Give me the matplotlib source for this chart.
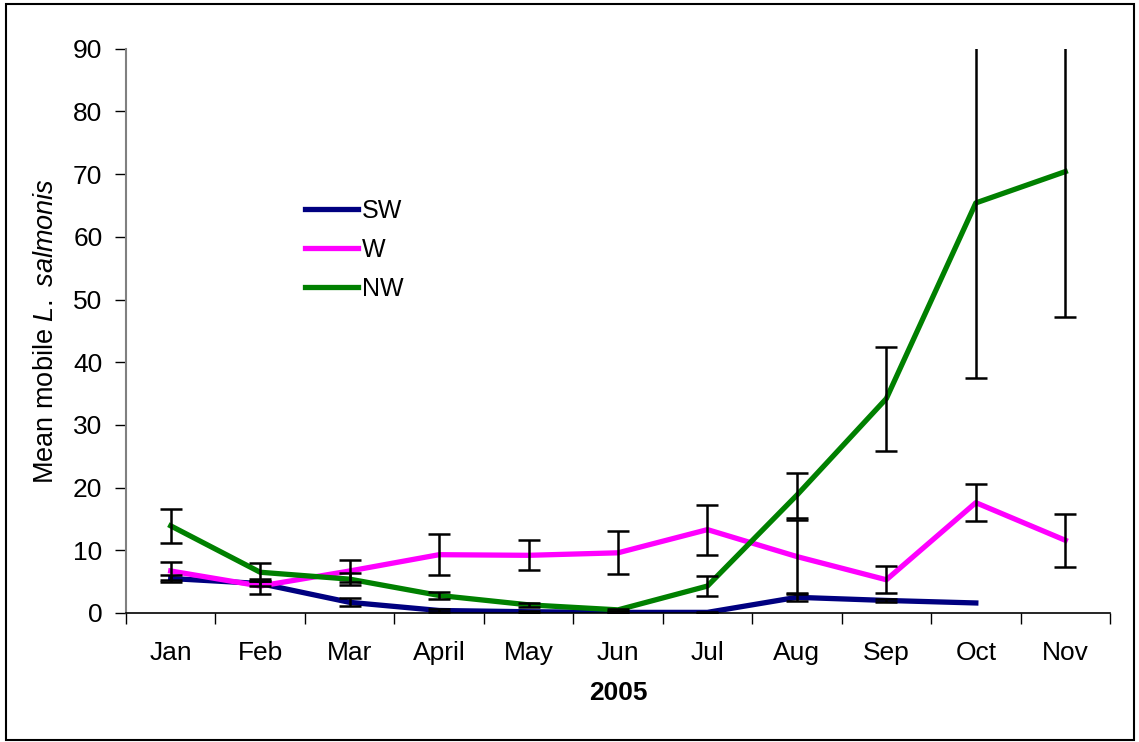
import numpy as np
import matplotlib
matplotlib.use("Agg")
import matplotlib.pyplot as plt
from matplotlib.patches import Rectangle

plt.rcParams['font.family'] = ['Liberation Sans', 'DejaVu Sans']
plt.rcParams['mathtext.fontset'] = 'custom'
plt.rcParams['mathtext.rm'] = 'Liberation Sans'
plt.rcParams['mathtext.it'] = 'Liberation Sans:italic'

# data
months = ['Jan', 'Feb', 'Mar', 'April', 'May', 'Jun', 'Jul', 'Aug', 'Sep', 'Oct', 'Nov']
sw = [5.5, 4.7, 1.7, 0.4, 0.2, 0.1, 0.1, 2.5, 2.0, 1.6, np.nan]
sw_err = [0.5, 0.4, 0.65, 0.2, 0.15, 0.1, 0.1, 0.6, 0.2, np.nan, np.nan]
w = [6.7, 4.3, 6.7, 9.3, 9.2, 9.6, 13.3, 9.0, 5.3, 17.6, 11.6]
w_err = [1.5, 1.2, 1.8, 3.3, 2.4, 3.4, 4.0, 5.8, 2.15, 3.0, 4.2]
nw = [13.9, 6.5, 5.4, 2.8, 1.3, 0.5, 4.3, 18.8, 34.2, 65.4, 70.4]
nw_err = [2.7, 1.4, 1.0, 0.5, 0.3, 0.2, 1.65, 3.6, 8.3, 27.9, 23.2]

fig = plt.figure(figsize=(11.39, 7.42), dpi=100)
ax = fig.add_axes([126/1139, 1 - 613/742, (1110 - 126)/1139, (613 - 48.7)/742])

x = np.arange(len(months))
series = [(sw, sw_err, '#000080', 'SW'), (w, w_err, '#FF00FF', 'W'), (nw, nw_err, '#008000', 'NW')]
for vals, errs, col, lab in series:
    ax.plot(x, vals, color=col, lw=3.8, label=lab, zorder=2)
for vals, errs, col, lab in series:
    ax.errorbar(x, vals, yerr=errs, fmt='none', ecolor='black', elinewidth=1.8,
                capsize=8, capthick=1.8, zorder=3)

ax.set_xlim(-0.5, 10.5)
ax.set_ylim(0, 90)
ax.set_yticks(np.arange(0, 91, 10))
ax.set_xticks(np.arange(-0.5, 11, 1))
ax.set_xticklabels([])
ax.set_xticks(x, minor=True)
ax.set_xticklabels(months, minor=True)
ax.tick_params(axis='x', which='minor', length=0, pad=20, labelsize=19)
ax.tick_params(axis='x', which='major', length=8, width=1, direction='out')
ax.tick_params(axis='y', length=8, width=1, direction='out', labelsize=19, pad=9)

ax.spines['top'].set_visible(False)
ax.spines['right'].set_visible(False)
ax.spines['left'].set_color('#808080')
ax.spines['left'].set_linewidth(1.5)
ax.spines['bottom'].set_linewidth(1.2)

ax.set_ylabel(r'Mean mobile $L.\ salmonis$', fontsize=19.5, labelpad=10)
ax.set_xlabel('2005', fontsize=19, fontweight='bold', labelpad=12)

ax.legend(loc='upper left', bbox_to_anchor=(0.172, 0.752), frameon=False, fontsize=18,
          handlelength=2.1, handletextpad=0.18, labelspacing=0.6, borderaxespad=0)

# outer chart border
fig.patches.append(Rectangle((6/1139, 2/742), 1128/1139, 736/742, transform=fig.transFigure,
                             fill=False, edgecolor='black', linewidth=1.5))

fig.savefig('out.png', dpi=100)
